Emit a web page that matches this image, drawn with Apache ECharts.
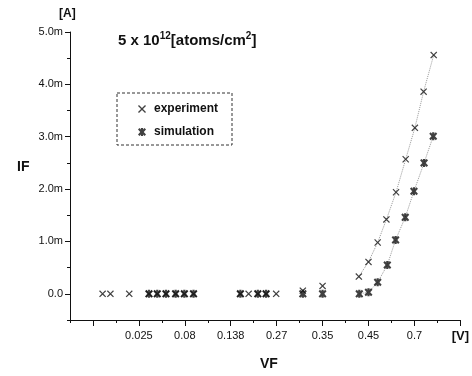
<!DOCTYPE html>
<html>
<head>
<meta charset="utf-8">
<script src="https://cdn.jsdelivr.net/npm/echarts@6/dist/echarts.min.js"></script>
<style>
  html, body { margin: 0; background: #fff; }
  #chart { width: 472px; height: 376px; }
</style>
</head>
<body>
<div id="chart"></div>
<script>
// x axis is drawn in tick units (one tick = one labelled voltage step)
const xTickPos = [0, 1, 2, 3, 4, 5, 6, 7, 8]
const xTickLabels = ['', '0.025', '0.08', '0.138', '0.27', '0.35', '0.45', '0.7', '[V]']
const xMinorPos = [-0.5, 0.5, 1.5, 2.5, 3.5, 4.5, 5.5, 6.5, 7.5]

const yTickPos = [0, 1, 2, 3, 4, 5]
const yTickLabels = ['0.0', '1.0m', '2.0m', '3.0m', '4.0m', '5.0m']
const yMinorPos = [-0.5, 0.5, 1.5, 2.5, 3.5, 4.5]

// experiment (mA)
const expX = [0.21, 0.38, 0.79, 1.22, 1.40, 1.59, 1.80, 1.99, 2.19, 3.21, 3.39, 3.59, 3.77, 3.99, 4.57, 5.0,
  5.79, 6.0, 6.2, 6.39, 6.6, 6.81, 7.01, 7.2, 7.42]
const expY = [0, 0, 0, 0, 0, 0, 0, 0, 0, 0, 0, 0, 0, 0, 0.06, 0.15,
  0.33, 0.61, 0.98, 1.42, 1.94, 2.57, 3.17, 3.86, 4.56]

// simulation (mA)
const simX = [1.22, 1.40, 1.59, 1.80, 1.99, 2.19, 3.21, 3.59, 3.77, 4.57, 5.0,
  5.80, 6.0, 6.2, 6.41, 6.59, 6.8, 6.99, 7.21, 7.41]
const simY = [0, 0, 0, 0, 0, 0, 0, 0, 0, 0, 0,
  0, 0.03, 0.22, 0.55, 1.03, 1.46, 1.96, 2.50, 3.01]

const expFitFrom = 16
const simFitFrom = 11

const pairs = (xs, ys) => xs.map((x, i) => [x, ys[i]])

const crossSym = 'path://M0,1.2L1.2,0L5,3.8L8.8,0L10,1.2L6.2,5L10,8.8L8.8,10L5,6.2L1.2,10L0,8.8L3.8,5Z'
// bold asterisk: thick X merged with a vertical bar, one outline
const starSym = 'path://M0,1.8L1.8,0L3.6,1.8L3.6,0L6.4,0L6.4,1.8L8.2,0L10,1.8L7.2,5L10,8.2L8.2,10L6.4,8.2L6.4,10L3.6,10L3.6,8.2L1.8,10L0,8.2L2.8,5Z'

const font = 'Arial, "Liberation Sans", sans-serif'
const ink = '#111'

const chart = echarts.init(document.getElementById('chart'))

const tickAxisBase = {
  type: 'value',
  axisLine: { show: true, onZero: false, lineStyle: { color: ink, width: 1 } },
  splitLine: { show: false },
}

chart.setOption({
  animation: false,
  backgroundColor: '#fff',
  textStyle: { fontFamily: font },
  grid: { left: 70, right: 5, top: 32, bottom: 56 },
  xAxis: [
    {
      ...tickAxisBase,
      position: 'bottom',
      min: -0.5, max: 8,
      axisTick: { show: true, length: 6, customValues: xTickPos, lineStyle: { color: ink } },
      axisLabel: {
        show: true, customValues: xTickPos, margin: 10,
        color: ink, fontSize: 11, fontFamily: font,
        formatter: v => {
          const s = xTickLabels[xTickPos.indexOf(Math.round(v))]
          return s === '[V]' ? '{b|[V]}' : s
        },
        rich: { b: { fontWeight: 'bold', fontSize: 13, color: ink, fontFamily: font } },
      },
    },
    {
      ...tickAxisBase,
      position: 'bottom',
      min: -0.5, max: 8,
      axisLine: { show: false, onZero: false },
      axisTick: { show: true, length: 3, customValues: xMinorPos, lineStyle: { color: ink } },
      axisLabel: { show: false },
    },
  ],
  yAxis: [
    {
      ...tickAxisBase,
      position: 'left',
      min: -0.5, max: 5,
      axisTick: { show: true, length: 5, customValues: yTickPos, lineStyle: { color: ink } },
      axisLabel: {
        show: true, customValues: yTickPos, margin: 7,
        color: ink, fontSize: 11, fontFamily: font,
        formatter: v => yTickLabels[yTickPos.indexOf(Math.round(v))],
      },
    },
    {
      ...tickAxisBase,
      position: 'left',
      min: -0.5, max: 5,
      axisLine: { show: false, onZero: false },
      axisTick: { show: true, length: 3, customValues: yMinorPos, lineStyle: { color: ink } },
      axisLabel: { show: false },
    },
  ],
  legend: {
    data: ['experiment', 'simulation'],
    orient: 'vertical',
    left: 133, top: 98,
    itemGap: 11,
    itemWidth: 8, itemHeight: 8,
    textStyle: { fontWeight: 'bold', fontSize: 12, color: ink, fontFamily: font, padding: [0, 0, 0, 3] },
  },
  graphic: [
    {
      type: 'rect', shape: { x: 117, y: 93, width: 115, height: 52 },
      style: { fill: 'none', stroke: '#333', lineWidth: 1, lineDash: [3, 2] },
    },
    {
      type: 'text', left: 59, top: 8,
      style: { text: '[A]', font: 'bold 12px ' + font, fill: ink },
    },
    {
      type: 'text', left: 17, top: 160,
      style: { text: 'IF', font: 'bold 14px ' + font, fill: ink },
    },
    {
      type: 'text', left: 260, top: 357,
      style: { text: 'VF', font: 'bold 14px ' + font, fill: ink },
    },
    {
      type: 'text', left: 118, top: 31,
      style: {
        text: '{a|5 x 10}{s|12}{a|[atoms/cm}{s|2}{a|]}',
        rich: {
          a: { font: 'bold 15px ' + font, fill: ink, lineHeight: 20 },
          s: { font: 'bold 10px ' + font, fill: ink, padding: [0, 0, 9, 0] },
        },
      },
    },
  ],
  series: [
    {
      name: 'experiment fit', type: 'line', data: pairs(expX, expY).slice(expFitFrom),
      symbol: 'none', silent: true, z: 1,
      lineStyle: { type: 'dotted', width: 1, color: '#999' },
    },
    {
      name: 'simulation fit', type: 'line', data: pairs(simX, simY).slice(simFitFrom),
      symbol: 'none', silent: true, z: 1,
      lineStyle: { type: 'dotted', width: 1, color: '#999' },
    },
    {
      name: 'experiment', type: 'scatter', data: pairs(expX, expY),
      symbol: crossSym, symbolSize: 7, z: 3,
      itemStyle: { color: ink },
    },
    {
      name: 'simulation', type: 'scatter', data: pairs(simX, simY),
      symbol: starSym, symbolSize: 8, z: 2,
      itemStyle: { color: ink },
    },
  ],
})
</script>
</body>
</html>
